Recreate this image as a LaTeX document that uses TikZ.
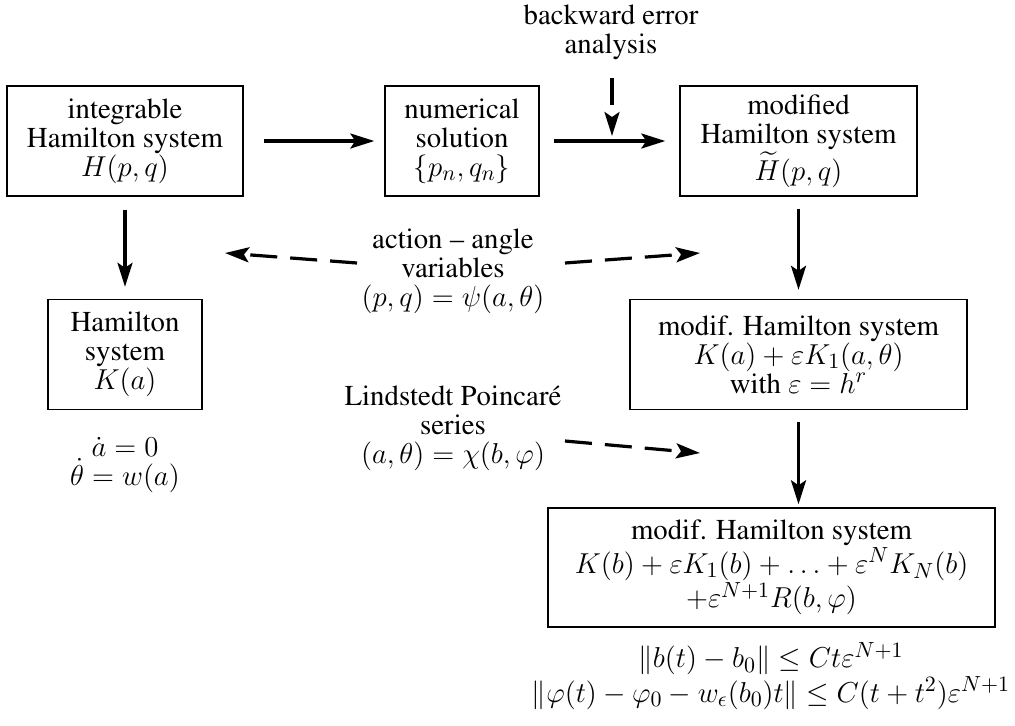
\documentclass[tikz,border=0pt,12pt]{standalone}
\usepackage[T1]{fontenc}
\renewcommand{\rmdefault}{ptm}
\usepackage{amsmath,amssymb}
\DeclareMathSizes{14.4}{15}{10.5}{7.5}
\usetikzlibrary{positioning, calc, arrows.meta}

\begin{document}
\begin{tikzpicture}[x=0.5pt, y=-0.5pt,
    every node/.style={font=\fontsize{14.4}{14.5}\selectfont, align=center, inner sep=0pt},
    sysbox/.style={draw, line width=0.7pt, minimum height=55pt},
    flow/.style={-{Stealth[length=12pt, width=7.5pt, inset=2.5pt]}, line width=1.6pt},
    link/.style={flow, dash pattern=on 13.5pt off 6.5pt}]

    \useasboundingbox (0,0) rectangle (1015,725);

    % ---------------------------------------------------
    % Boxes
    % ---------------------------------------------------
    \node[sysbox, minimum width=118pt] (integ) at (125,141) {integrable\\Hamilton system\\$H(p,q)$};
    \node[sysbox, minimum width=77pt] (numsol) at (462,141) {numerical\\solution\\$\{p_n,q_n\}$};
    \node[sysbox, minimum width=118.5pt] (modH) at (798.5,141) {modified\\Hamilton system\\$\widetilde{H}(p,q)$};
    \node[sysbox, minimum width=77pt] (hamK) at (125,354.5) {Hamilton\\system\\$K(a)$};
    \node[sysbox, minimum width=168.5pt] (modK) at (798.5,354.5) {modif. Hamilton system\\$K(a)+\varepsilon K_1(a,\theta)$\\with $\varepsilon=h^r$};
    \node[sysbox, minimum width=223.5pt, minimum height=59.5pt] (modKN) at (771.5,567.5)
        {modif. Hamilton system\\$K(b)+\varepsilon K_1(b)+\ldots+\varepsilon^N K_N(b)$\\$+\varepsilon^{N+1}R(b,\varphi)$};

    % ---------------------------------------------------
    % Free texts
    % ---------------------------------------------------
    \node (bea) at (611,32) {backward error\\analysis};
    \node (aav) at (453,271) {action -- angle\\variables\\$(p,q)=\psi(a,\theta)$};
    \node (lps) at (453,428) {Lindstedt Poincar\'e\\series\\$(a,\theta)=\chi(b,\varphi)$};
    \node (aeq) at (125,465) {$\dot a=0$\\$\dot\theta=w(a)$};
    \node (bounds) at (771,676) {$\|b(t)-b_0\|\le Ct\varepsilon^{N+1}$\\
        $\|\varphi(t)-\varphi_0-w_\epsilon(b_0)t\|\le C(t+t^2)\varepsilon^{N+1}$};

    % ---------------------------------------------------
    % Arrow ends
    % ---------------------------------------------------
    \coordinate (joint) at (612,141);
    \coordinate (aavL0) at (357,263);
    \coordinate (aavL) at (225,253);
    \coordinate (aavR0) at (565,263);
    \coordinate (aavR) at (700,253);
    \coordinate (lps0) at (565,441);
    \coordinate (lpsR) at (700,453);

    % ---------------------------------------------------
    % Solid arrows
    % ---------------------------------------------------
    \draw[flow, shorten <=10pt, shorten >=5pt] (integ) -- (numsol);
    \draw[flow, shorten <=7pt, shorten >=7pt] (numsol) -- (modH);
    \draw[flow, shorten <=6.5pt, shorten >=6pt] (integ) -- (hamK);
    \draw[flow, shorten <=6pt, shorten >=4.5pt] (modH.south) -- (modH.south |- modK.north);
    \draw[flow, shorten <=6pt, shorten >=1.5pt] (modK.south) -- (modK.south |- modKN.north);

    % ---------------------------------------------------
    % Dashed arrows
    % ---------------------------------------------------
    \draw[link, shorten <=9pt, shorten >=2.5pt] (bea.south -| joint) -- (joint);
    \draw[link] (aavL0) -- (aavL);
    \draw[link] (aavR0) -- (aavR);
    \draw[link] (lps0) -- (lpsR);

\end{tikzpicture}
\end{document}
